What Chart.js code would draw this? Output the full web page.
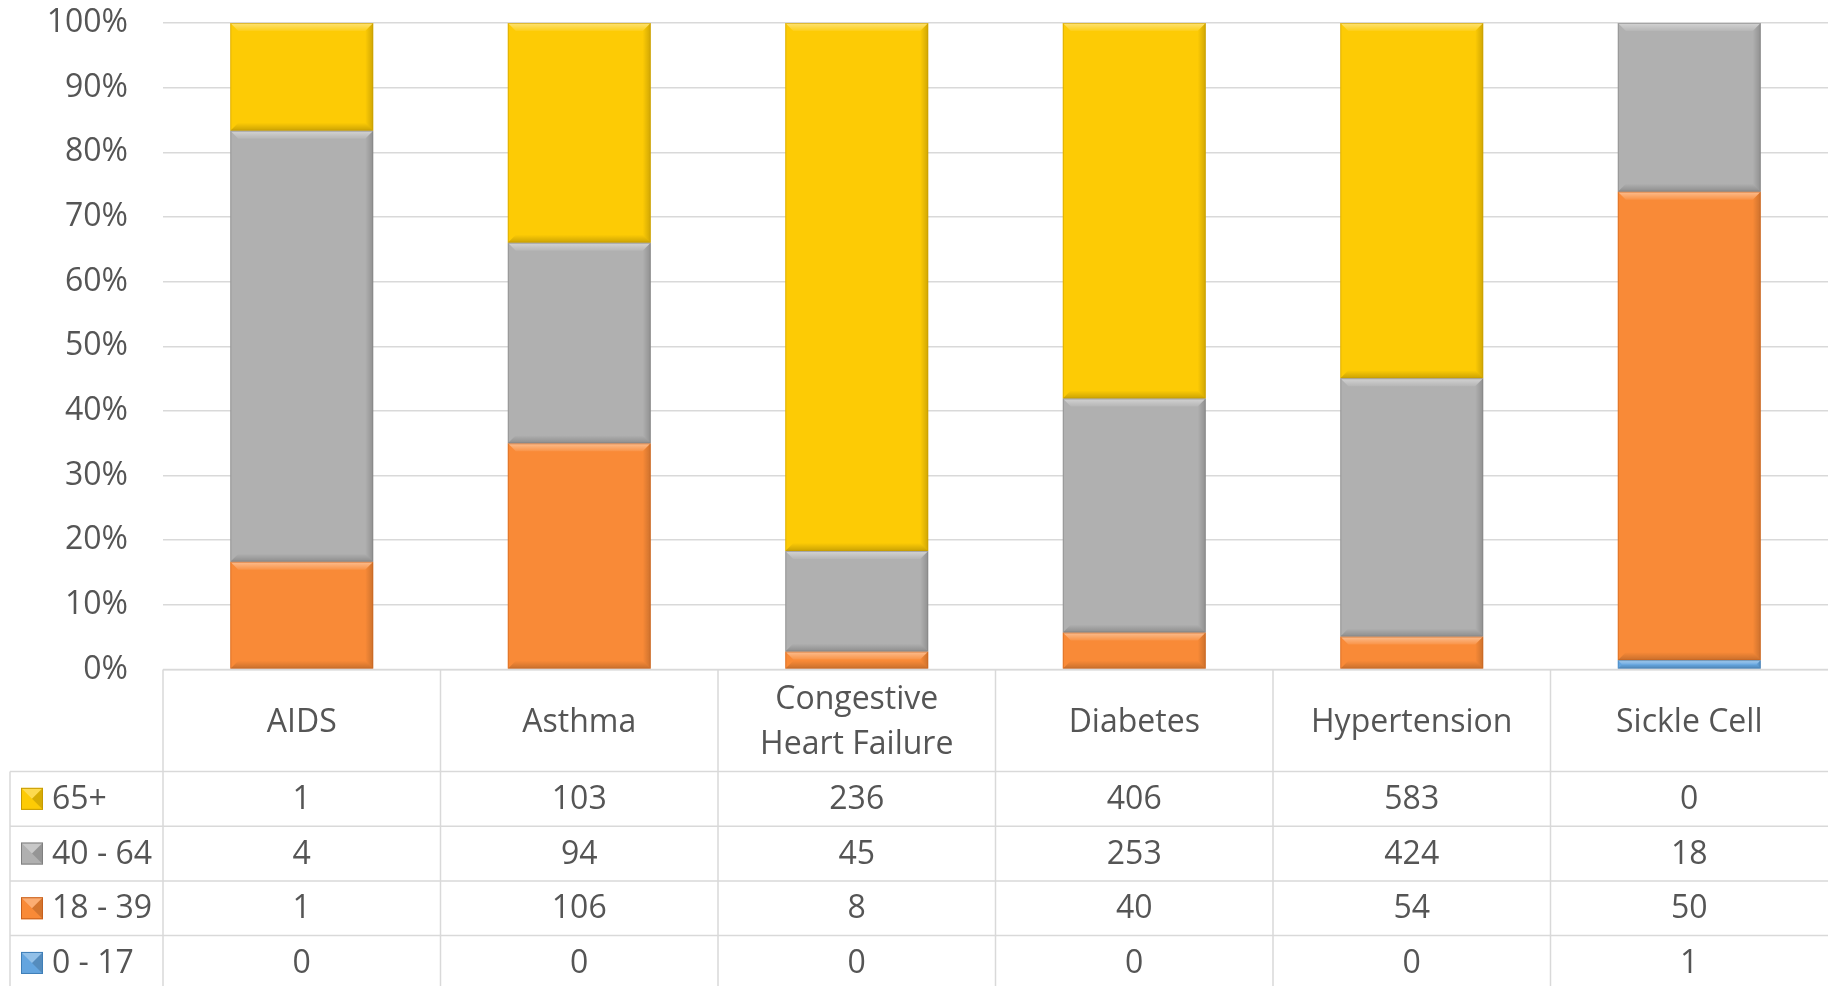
<!DOCTYPE html>
<html>
<head>
<meta charset="utf-8">
<script src="https://cdn.jsdelivr.net/npm/chart.js@4"></script>
<style>
html,body{margin:0;padding:0;background:#fff;}
#wrap{width:1828px;height:986px;position:relative;}
</style>
</head>
<body>
<div id="wrap"><canvas id="c" width="1828" height="986"></canvas></div>
<script>
const categories = ['AIDS', 'Asthma', 'Congestive Heart Failure', 'Diabetes', 'Hypertension', 'Sickle Cell'];
const headerLines = [['AIDS'], ['Asthma'], ['Congestive', 'Heart Failure'], ['Diabetes'], ['Hypertension'], ['Sickle Cell']];
const age0to17 = [0, 0, 0, 0, 0, 1];
const age18to39 = [1, 106, 8, 40, 54, 50];
const age40to64 = [4, 94, 45, 253, 424, 18];
const age65plus = [1, 103, 236, 406, 583, 0];
const yTicks = [0, 10, 20, 30, 40, 50, 60, 70, 80, 90, 100];

const seriesNames = ['0 - 17', '18 - 39', '40 - 64', '65+'];
const seriesCounts = [age0to17, age18to39, age40to64, age65plus];
const seriesColors = ['#64A5DF', '#F98A37', '#B0B0B0', '#FDCB05'];
const seriesEdges = ['#3F7FB8', '#C8601C', '#808080', '#C79A00'];

const totals = categories.map((_, i) => seriesCounts.reduce((s, arr) => s + arr[i], 0));
const toPct = arr => arr.map((v, i) => totals[i] ? v / totals[i] * 100 : 0);

const FONT = '"Open Sans", "DejaVu Sans", sans-serif';
const FSIZE = 32;
const TXT = '#555555';
const GRID = '#D9D9D9';

const datasets = seriesNames.map((n, k) => ({
  label: n,
  data: toPct(seriesCounts[k]),
  backgroundColor: seriesColors[k],
  borderColor: seriesEdges[k],
  borderWidth: 0,
  categoryPercentage: 1,
  barPercentage: 0.515
}));

const bevelPlugin = {
  id: 'bevel',
  afterDatasetsDraw(chart) {
    const ctx = chart.ctx;
    chart.data.datasets.forEach((ds, k) => {
      const meta = chart.getDatasetMeta(k);
      meta.data.forEach(bar => {
        const p = bar.getProps(['x', 'y', 'base', 'width'], true);
        const l = p.x - p.width / 2, r = p.x + p.width / 2;
        const t = Math.min(p.y, p.base), b = Math.max(p.y, p.base);
        const h = b - t;
        if (h < 0.5) return;
        const bv = Math.min(8, h / 2);
        ctx.save();
        let g = ctx.createLinearGradient(0, t, 0, t + bv);
        g.addColorStop(0, 'rgba(255,255,255,0.45)');
        g.addColorStop(1, 'rgba(255,255,255,0.08)');
        ctx.fillStyle = g;
        ctx.beginPath();
        ctx.moveTo(l, t); ctx.lineTo(r, t); ctx.lineTo(r - bv, t + bv); ctx.lineTo(l + bv, t + bv); ctx.closePath(); ctx.fill();
        g = ctx.createLinearGradient(r - bv, 0, r, 0);
        g.addColorStop(0, 'rgba(0,0,0,0.0)');
        g.addColorStop(1, 'rgba(0,0,0,0.18)');
        ctx.fillStyle = g;
        ctx.beginPath();
        ctx.moveTo(r, t); ctx.lineTo(r, b); ctx.lineTo(r - bv, b - bv); ctx.lineTo(r - bv, t + bv); ctx.closePath(); ctx.fill();
        g = ctx.createLinearGradient(0, b - bv, 0, b);
        g.addColorStop(0, 'rgba(0,0,0,0.0)');
        g.addColorStop(1, 'rgba(0,0,0,0.2)');
        ctx.fillStyle = g;
        ctx.beginPath();
        ctx.moveTo(l, b); ctx.lineTo(r, b); ctx.lineTo(r - bv, b - bv); ctx.lineTo(l + bv, b - bv); ctx.closePath(); ctx.fill();
        ctx.strokeStyle = ds.borderColor;
        ctx.globalAlpha = 0.55;
        ctx.lineWidth = 1;
        ctx.strokeRect(l + 0.5, t + 0.5, p.width - 1, h - 1);
        ctx.restore();
      });
    });
  }
};

const tablePlugin = {
  id: 'dataTable',
  afterDraw(chart) {
    const ctx = chart.ctx;
    const xs = chart.scales.x;
    const area = chart.chartArea;
    const n = categories.length;
    const colW = (area.right - area.left) / n;
    const top = area.bottom;
    const headerH = 102;
    const rowH = 54.7;
    const legendLeft = 10;
    const bottom = chart.height;
    ctx.save();
    ctx.strokeStyle = GRID;
    ctx.lineWidth = 1.5;
    ctx.beginPath();
    ctx.moveTo(area.left, top); ctx.lineTo(area.right, top);
    for (let r = 0; r < 4; r++) {
      const y = top + headerH + r * rowH;
      ctx.moveTo(legendLeft, y); ctx.lineTo(area.right, y);
    }
    ctx.moveTo(legendLeft, top + headerH); ctx.lineTo(legendLeft, bottom);
    for (let i = 0; i < n; i++) {
      const x = xs.getPixelForValue(i) - colW / 2;
      ctx.moveTo(x, top); ctx.lineTo(x, bottom);
    }
    ctx.stroke();

    ctx.fillStyle = TXT;
    ctx.font = FSIZE + 'px ' + FONT;
    ctx.textAlign = 'center';
    ctx.textBaseline = 'middle';
    const lh = 45;
    categories.forEach((c, i) => {
      const cx = xs.getPixelForValue(i);
      const lines = headerLines[i];
      const cy = top + headerH / 2 + 2;
      lines.forEach((ln, j) => {
        ctx.fillText(ln, cx, cy + (j - (lines.length - 1) / 2) * lh);
      });
    });
    const order = [3, 2, 1, 0];
    order.forEach((k, r) => {
      const cy = top + headerH + r * rowH + rowH / 2 + 1;
      const ks = 22, kx = 21, ky = cy - ks / 2 - 1;
      ctx.fillStyle = seriesColors[k];
      ctx.fillRect(kx, ky, ks, ks);
      ctx.fillStyle = 'rgba(255,255,255,0.3)';
      ctx.beginPath(); ctx.moveTo(kx, ky); ctx.lineTo(kx + ks, ky); ctx.lineTo(kx + ks / 2, ky + ks / 2); ctx.closePath(); ctx.fill();
      ctx.fillStyle = 'rgba(0,0,0,0.15)';
      ctx.beginPath(); ctx.moveTo(kx + ks, ky); ctx.lineTo(kx + ks, ky + ks); ctx.lineTo(kx + ks / 2, ky + ks / 2); ctx.closePath(); ctx.fill();
      ctx.strokeStyle = seriesEdges[k];
      ctx.lineWidth = 1;
      ctx.strokeRect(kx + 0.5, ky + 0.5, ks - 1, ks - 1);
      ctx.fillStyle = TXT;
      ctx.textAlign = 'left';
      ctx.fillText(seriesNames[k], 52, cy);
      ctx.textAlign = 'center';
      seriesCounts[k].forEach((v, i) => {
        ctx.fillText(String(v), xs.getPixelForValue(i), cy);
      });
    });
    ctx.restore();
  }
};

new Chart(document.getElementById('c'), {
  type: 'bar',
  data: { labels: categories, datasets },
  options: {
    responsive: false,
    animation: false,
    devicePixelRatio: 1,
    layout: { padding: { top: 23, right: 0, bottom: 316.5, left: 0 } },
    plugins: { legend: { display: false }, tooltip: { enabled: false } },
    scales: {
      x: {
        stacked: true,
        grid: { display: false, drawTicks: false },
        border: { display: false },
        ticks: { display: false }
      },
      y: {
        stacked: true,
        min: 0, max: 100,
        afterBuildTicks: s => { s.ticks = yTicks.map(v => ({ value: v })); },
        afterFit: s => { s.width = 163; s.paddingTop = 0; s.paddingBottom = 0; },
        grid: { color: GRID, lineWidth: 1.5, drawTicks: false },
        border: { display: false },
        ticks: {
          padding: 35,
          color: TXT,
          font: { family: FONT, size: FSIZE },
          callback: v => v + '%'
        }
      }
    }
  },
  plugins: [bevelPlugin, tablePlugin]
});
</script>
</body>
</html>
